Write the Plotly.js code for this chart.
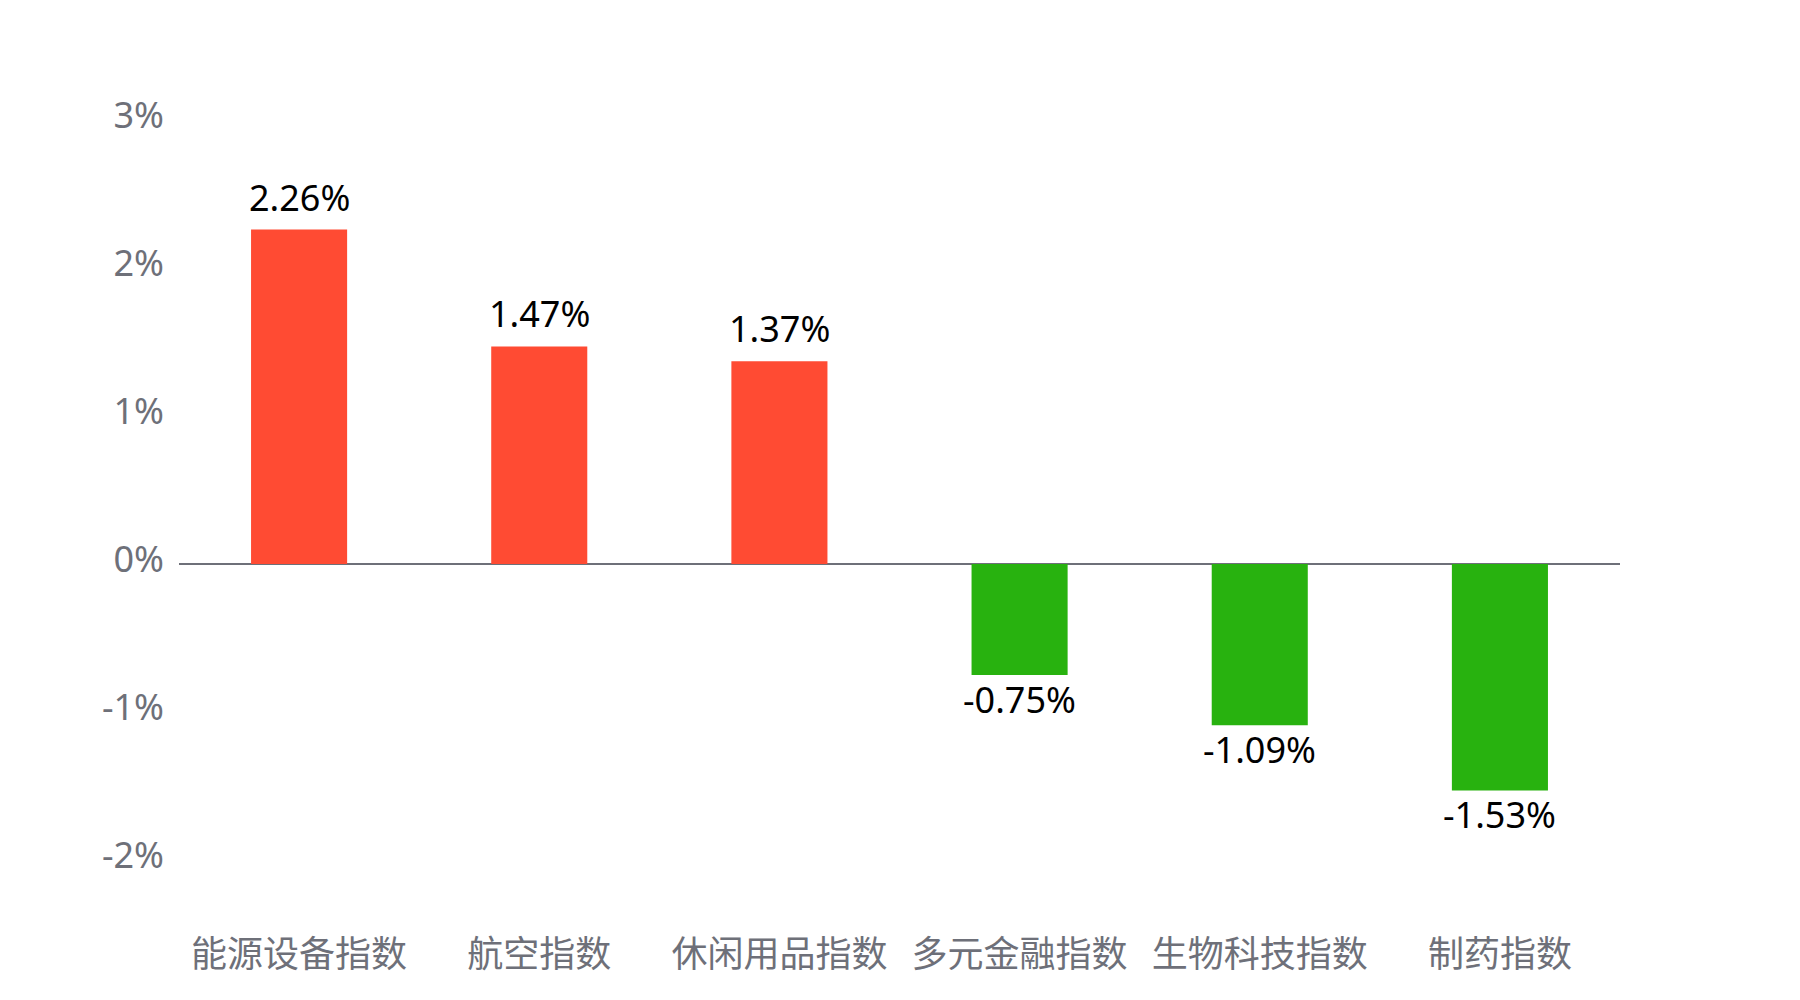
<!DOCTYPE html>
<html>
<head>
<meta charset="utf-8">
<script src="https://cdn.plot.ly/plotly-3.0.1.min.js"></script>
<style>html,body{margin:0;padding:0;background:#fff;}#chart{width:1800px;height:1000px;}</style>
</head>
<body>
<div id="chart"></div>
<script>
const categories = ['能源设备指数', '航空指数', '休闲用品指数', '多元金融指数', '生物科技指数', '制药指数'];
const values = [2.26, 1.47, 1.37, -0.75, -1.09, -1.53];
const labels = ['2.26%', '1.47%', '1.37%', '-0.75%', '-1.09%', '-1.53%'];
const yTickVals = [-2, -1, 0, 1, 2, 3];
const yTickText = ['-2%', '-1%', '0%', '1%', '2%', '3%'];
const upColor = '#FF4B33';
const downColor = '#28B20F';
const fontFamily = '"Microsoft YaHei", "Noto Sans", "Noto Sans CJK SC", sans-serif';

const trace = {
  type: 'bar',
  x: categories,
  y: values,
  marker: {color: values.map(v => v >= 0 ? upColor : downColor)},
  hoverinfo: 'x+y'
};

const annotations = categories.map((c, i) => ({
  x: c,
  y: values[i],
  xref: 'x',
  yref: 'y',
  text: labels[i],
  showarrow: false,
  yanchor: values[i] >= 0 ? 'bottom' : 'top',
  yshift: values[i] >= 0 ? 6 : 2,
  font: {family: fontFamily, size: 36, color: '#000000'}
}));

const layout = {
  width: 1800,
  height: 1000,
  margin: {l: 179, r: 180, t: 46, b: 70},
  paper_bgcolor: '#ffffff',
  plot_bgcolor: '#ffffff',
  bargap: 0.6,
  showlegend: false,
  font: {family: fontFamily},
  annotations: annotations,
  xaxis: {
    type: 'category',
    showgrid: false,
    showline: false,
    zeroline: false,
    ticks: '',
    tickfont: {family: fontFamily, size: 36, color: '#6E7079'}
  },
  yaxis: {
    range: [-2.473, 3.5],
    tickmode: 'array',
    tickvals: yTickVals,
    ticktext: yTickText,
    showgrid: false,
    showline: false,
    zeroline: true,
    zerolinecolor: '#6E7079',
    zerolinewidth: 2,
    ticks: '',
    ticklabelstandoff: 14,
    ticklabelshift: -5,
    tickfont: {family: fontFamily, size: 36, color: '#6E7079'}
  }
};

Plotly.newPlot('chart', [trace], layout, {displayModeBar: false, staticPlot: true});
</script>
</body>
</html>
